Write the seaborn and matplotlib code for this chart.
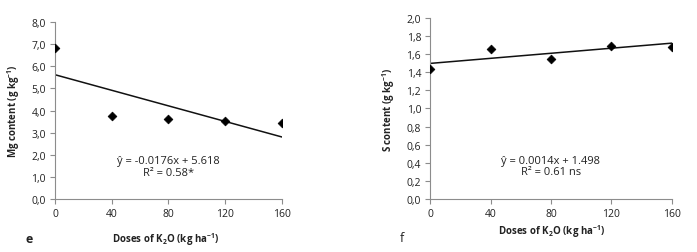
import matplotlib
matplotlib.use("Agg")
import matplotlib.pyplot as plt
from matplotlib.ticker import FuncFormatter
import numpy as np
import pandas as pd
import seaborn as sns

# doses of K2O (kg/ha)
doses = [0, 40, 80, 120, 160]
# Mg content (g/kg), panel e
mg_content = [6.84, 3.75, 3.60, 3.53, 3.42]
# S content (g/kg), panel f
s_content = [1.44, 1.66, 1.55, 1.69, 1.68]

# fitted equations from the figure
mg_fit = (-0.0176, 5.618)
s_fit = (0.0014, 1.498)
mg_eq = ["ŷ = -0.0176x + 5.618", "R² = 0.58*"]
s_eq = ["ŷ = 0.0014x + 1.498", "R² = 0.61 ns"]

sns.set_style("ticks")
plt.rcParams["font.family"] = ["Open Sans", "DejaVu Sans"]
plt.rcParams["mathtext.fontset"] = "custom"
plt.rcParams["mathtext.rm"] = "Open Sans"
plt.rcParams["mathtext.bf"] = "Open Sans:bold"

grey = "#8c8c8c"
txt = "#222222"

fig = plt.figure(figsize=(6.97, 2.53), dpi=100)
ax_e = fig.add_axes([0.0789, 0.2095, 0.3257, 0.6995])
ax_f = fig.add_axes([0.617, 0.2095, 0.347, 0.7155])


def comma(v, pos):
    return f"{v:.1f}".replace(".", ",")


def panel(ax, y, fit, ymax, ystep, ylabel, eq, eq_y):
    df = pd.DataFrame({"dose": doses, "val": y})
    sns.scatterplot(data=df, x="dose", y="val", ax=ax, marker="D", s=20,
                    color="black", edgecolor="black", linewidth=0.5, zorder=3)
    xs = np.array([doses[0], doses[-1]])
    line = pd.DataFrame({"dose": xs, "val": fit[1] + fit[0] * xs})
    sns.lineplot(data=line, x="dose", y="val", ax=ax, color="#111111", lw=1.1)
    ax.set_xlim(0, 160)
    ax.set_ylim(0, ymax)
    ax.set_xticks(doses)
    ax.set_yticks(np.arange(0, ymax + ystep / 2, ystep))
    ax.yaxis.set_major_formatter(FuncFormatter(comma))
    sns.despine(ax=ax)
    for sp in ("left", "bottom"):
        ax.spines[sp].set_color(grey)
        ax.spines[sp].set_linewidth(0.8)
    ax.tick_params(colors=grey, labelcolor=txt, labelsize=7.5, length=3.5,
                   width=0.8, pad=3)
    ax.set_xlabel("")
    ax.set_ylabel(ylabel, fontsize=7, fontweight="bold", color=txt, labelpad=7)
    ax.text(80, eq_y[0], eq[0], ha="center", va="center", fontsize=8, color=txt)
    ax.text(80, eq_y[1], eq[1], ha="center", va="center", fontsize=8, color=txt)


panel(ax_e, mg_content, mg_fit, 8.0, 1.0, r"Mg content (g kg$^{\mathbf{-1}}$)",
      mg_eq, (1.75, 1.22))
panel(ax_f, s_content, s_fit, 2.0, 0.2, r"S content (g kg$^{\mathbf{-1}}$)",
      s_eq, (0.43, 0.30))

xlab = r"Doses of K$_{\mathbf{2}}$O (kg ha$^{\mathbf{-1}}$)"
fig.text(166 / 697, 1 - 240 / 253, xlab, ha="center", va="center",
         fontsize=7, fontweight="bold", color=txt)
fig.text(552 / 697, 1 - 232 / 253, xlab, ha="center", va="center",
         fontsize=7, fontweight="bold", color=txt)
fig.text(29 / 697, 1 - 240 / 253, "e", ha="center", va="center",
         fontsize=9, fontweight="bold", color=txt)
fig.text(402 / 697, 1 - 239 / 253, "f", ha="center", va="center",
         fontsize=9, color=txt)

fig.savefig("out.png", dpi=100)
